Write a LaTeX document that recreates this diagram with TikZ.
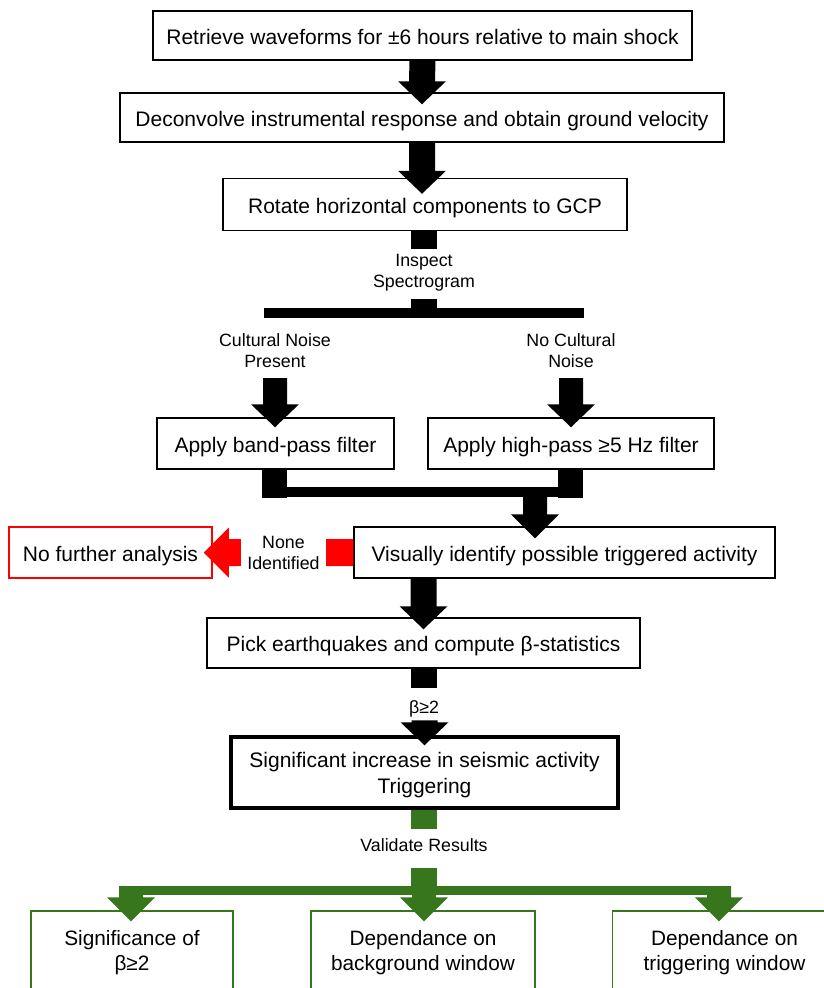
\documentclass[tikz,border=0pt]{standalone}
\usepackage{fontspec}
\setmainfont{Liberation Sans}
\usetikzlibrary{calc}
\definecolor{dgreen}{HTML}{38761D}
\definecolor{myred}{HTML}{FF0000}
\newcommand\mainsize{\fontsize{21}{26}\selectfont}
\newcommand\smallsize{\fontsize{17.8}{21}\selectfont}
\newcommand\greensize{\fontsize{20.8}{25}\selectfont}
% block arrow pointing down: colour, start, tip, head length, shaft half width
\newcommand\blkdown[5]{\fill[#1] ($(#2)+(-#5,0)$) -- ($(#3)+(-#5,-#4)$) -- ($(#3)+(-24,-#4)$) -- (#3) -- ($(#3)+(24,-#4)$) -- ($(#3)+(#5,-#4)$) -- ($(#2)+(#5,0)$) -- cycle;}
\tikzset{
  box/.style={draw=black, line width=1.5pt, fill=white, inner sep=0pt, align=center, font=\mainsize, text height=17pt, text depth=0pt},
  redbox/.style={box, draw=myred},
  sigbox/.style={box, line width=3.5pt, text height={}, text depth=-2pt},
  gbox/.style={draw=dgreen, line width=1.5pt, fill=white, inner sep=0pt, align=center, font=\greensize},
  lab/.style={inner sep=0pt, align=center, font=\smallsize}
}
\begin{document}
\begin{tikzpicture}[x=1pt,y=-1pt]
\clip (0,0) rectangle (824,988);
\fill[white] (0,0) rectangle (824,988);

% boxes
\node[box, minimum width=539pt, minimum height=49pt] (n1) at (422.5,35.5) {Retrieve waveforms for ±6 hours relative to main shock};
\node[box, minimum width=604pt, minimum height=49pt] (n2) at (422,117.5) {Deconvolve instrumental response and obtain ground velocity};
\node[box, minimum width=404pt, minimum height=52pt] (n3) at (425,204.5) {Rotate horizontal components to GCP};
\node[lab] (insp) at (424,273) {Inspect\\Spectrogram};
\node[lab] (cn) at (275,351) {Cultural Noise\\Present};
\node[lab] (ncn) at (571,351) {No Cultural\\Noise};
\node[box, minimum width=237pt, minimum height=51pt] (bp) at (275.5,443.5) {Apply band-pass filter};
\node[box, minimum width=286pt, minimum height=51pt] (hp) at (571,443.5) {Apply high-pass ≥5 Hz filter};
\node[box, minimum width=421pt, minimum height=51pt] (vis) at (564.5,552.5) {Visually identify possible triggered activity};
\node[redbox, minimum width=203pt, minimum height=51pt] (nf) at (110.5,552.5) {No further analysis};
\node[box, minimum width=433pt, minimum height=50pt] (pick) at (423.5,643) {Pick earthquakes and compute β-statistics};
\node[lab] (beta) at (424,708.5) {β≥2};
\node[sigbox, minimum width=387pt, minimum height=71pt] (sig) at (424.5,772.5) {Significant increase in seismic activity\\Triggering};
\node[lab] (val) at (424,845.5) {Validate Results};
\node[gbox, minimum width=202pt, minimum height=83pt] (g1) at (132,952.5) {Significance of\\β≥2};
\node[gbox, minimum width=224pt, minimum height=83pt] (g2) at (423,952.5) {Dependance on\\background window};
\node[gbox, minimum width=224pt, minimum height=83pt] (g3) at (724.5,952.5) {Dependance on\\triggering window};

% arrows n1 -> n2 -> n3
\coordinate (a1s) at (n1.south);
\coordinate (a1t) at ($(n2.north)+(0,12)$);
\blkdown{black}{a1s}{a1t}{23}{13}
\coordinate (a2s) at (n2.south);
\coordinate (a2t) at ($(n2.south |- n3.north)+(0,16)$);
\blkdown{black}{a2s}{a2t}{23}{13}

% inspect spectrogram branch
\fill ($(n3.south)+(-14,0)$) rectangle ($(n3.south)+(12,18)$);
\coordinate (br) at (424,313);
\fill ($(br)+(-13,-14)$) rectangle ($(br)+(13,0)$);
\fill ($(br)+(-160,-5)$) rectangle ($(br)+(160,5)$);

% branch arrows
\coordinate (c1s) at ($(cn)+(0,27)$);
\coordinate (c1t) at ($(bp.north -| cn)+(0,10)$);
\blkdown{black}{c1s}{c1t}{23}{12}
\coordinate (c2s) at ($(ncn)+(0,27)$);
\coordinate (c2t) at ($(hp.north)+(0,10)$);
\blkdown{black}{c2s}{c2t}{23}{12}

% merge
\fill ($(bp.south)+(-13.5,0)$) rectangle ($(bp.south)+(11.5,28)$);
\fill ($(hp.south)+(-13,0)$) rectangle ($(hp.south)+(12,28)$);
\fill (262,487) rectangle (583,497);
\coordinate (m1s) at (535,497);
\coordinate (m1t) at ($(m1s |- vis.north)+(0,12)$);
\blkdown{black}{m1s}{m1t}{24}{12}

% none identified
\coordinate (rt) at ($(nf.east)+(-9,0)$);
\fill[myred] ($(vis.west)+(0,-13.5)$) -- ($(rt)+(25,-13.5)$) -- ($(rt)+(25,-25)$) -- (rt) -- ($(rt)+(25,25)$) -- ($(rt)+(25,13.5)$) -- ($(vis.west)+(0,13.5)$) -- cycle;
\node[lab, fill=white, inner xsep=6pt, inner ysep=2pt] (none) at (283.5,552.5) {None\\Identified};

% vis -> pick
\coordinate (v1s) at (pick.north |- vis.south);
\coordinate (v1t) at ($(pick.north)+(0,12)$);
\blkdown{black}{v1s}{v1t}{23}{13}

% pick -> sig
\fill ($(pick.south)+(-12.5,0)$) rectangle ($(pick.south)+(13.5,19)$);
\coordinate (p1s) at ($(sig.north)+(0,-15)$);
\coordinate (p1t) at ($(sig.north)+(0,10)$);
\blkdown{black}{p1s}{p1t}{23}{13}

% green validation
\fill[dgreen] ($(sig.south)+(-13.5,0)$) rectangle ($(sig.south)+(12.5,19)$);
\coordinate (gb) at (424,890.5);
\fill[dgreen] ($(gb)+(-13,-22.5)$) rectangle ($(gb)+(13,0)$);
\fill[dgreen] (119,886) rectangle (731,895);
\coordinate (gs1) at (131,886);
\coordinate (gt1) at ($(gs1 |- g1.north)+(0,11)$);
\blkdown{dgreen}{gs1}{gt1}{24}{12}
\coordinate (gs2) at (424,886);
\coordinate (gt2) at ($(gs2 |- g2.north)+(0,11)$);
\blkdown{dgreen}{gs2}{gt2}{24}{12}
\coordinate (gs3) at (719,886);
\coordinate (gt3) at ($(gs3 |- g3.north)+(0,11)$);
\blkdown{dgreen}{gs3}{gt3}{24}{12}
\end{tikzpicture}
\end{document}
